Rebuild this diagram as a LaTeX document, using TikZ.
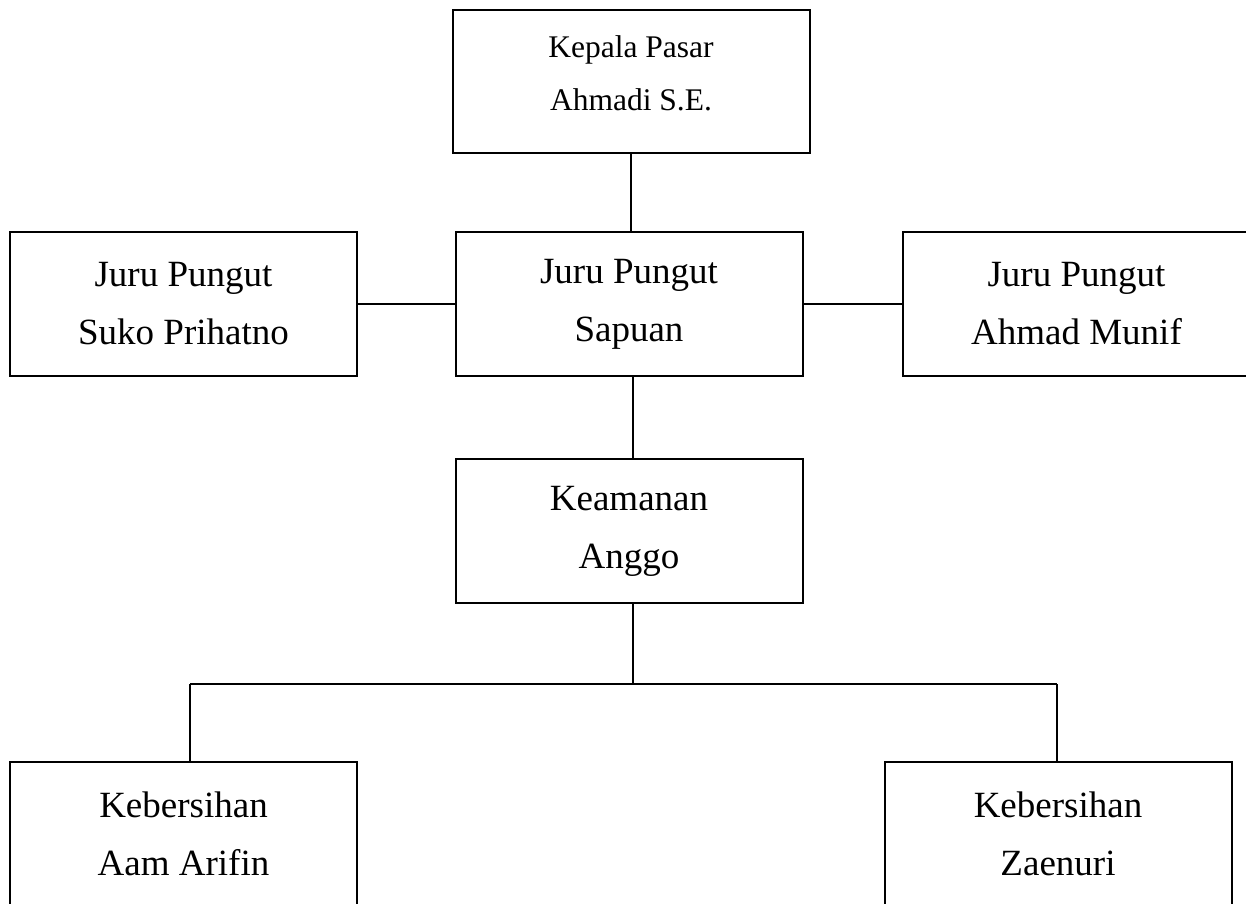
\documentclass[tikz,border=0pt]{standalone}
\usepackage{fontspec}
\setmainfont{Liberation Serif}
\begin{document}
\begin{tikzpicture}[x=1pt,y=-1pt,
  orgbox/.style={draw,line width=2pt,minimum width=347pt,minimum height=144pt,inner sep=0pt,align=center,font=\fontsize{37}{58}\selectfont},
  topbox/.style={draw,line width=2pt,minimum width=357pt,minimum height=143pt,inner sep=0pt},
  toptext/.style={align=center,inner sep=0pt,font=\fontsize{31.5}{53}\selectfont},
  link/.style={line width=2pt}]
\useasboundingbox (0,0) rectangle (1246,903);
\node[topbox] (top) at (631,81.5) {};
\node[toptext] (toplabel) at ([yshift=8pt]top.center) {Kepala Pasar\\Ahmadi S.E.};
\node[orgbox] (left) at (183.5,304) {Juru Pungut\\Suko Prihatno};
\node[orgbox] (mid) at (629,304) {Juru Pungut\\Sapuan};
\node[orgbox] (right) at (1076.5,304) {Juru Pungut\\Ahmad Munif};
\node[orgbox] (keam) at (629,531) {Keamanan\\Anggo};
\node[orgbox] (bl) at (183.5,834) {Kebersihan\\Aam Arifin};
\node[orgbox] (br) at (1058,834) {Kebersihan\\Zaenuri};
\coordinate (jl) at (190,684);
\coordinate (jr) at (1057,684);
\coordinate (jm) at (633,684);
\draw[link] (top.south) -- (top.south |- mid.north);
\draw[link] (left.east) -- (mid.west);
\draw[link] (mid.east) -- (right.west);
\draw[link] (jm |- mid.south) -- (jm |- keam.north);
\draw[link] (jm |- keam.south) -- (jm);
\draw[link] (jl) -- (jr);
\draw[link] (jl) -- (jl |- bl.north);
\draw[link] (jr) -- (jr |- br.north);
\end{tikzpicture}
\end{document}
